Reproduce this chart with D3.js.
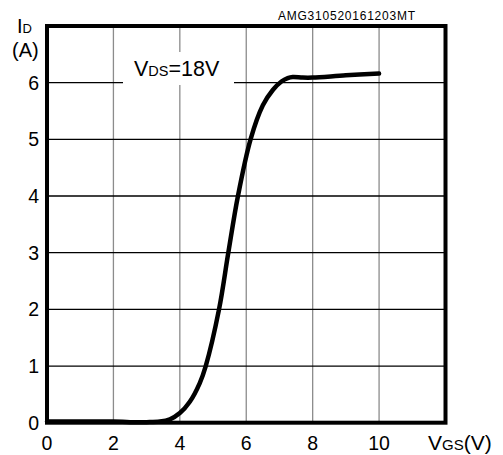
<!DOCTYPE html>
<html>
<head>
<meta charset="utf-8">
<script src="https://cdn.jsdelivr.net/npm/d3@7"></script>
<style>
  body { margin: 0; background: #fff; }
  text { font-family: "Liberation Sans", Arial, sans-serif; fill: #000; }
</style>
</head>
<body>
<div id="chart"></div>
<script>
// data (VGS in V, ID in A)
var vgs = [0, 1, 2, 2.5, 3, 3.4, 3.7, 4, 4.3, 4.6, 4.78, 5.18, 5.46, 5.75, 6.13, 6.5, 6.8, 7.06, 7.25, 7.4, 7.7, 8, 9, 10];
var id  = [0.02, 0.02, 0.02, 0.01, 0.01, 0.02, 0.06, 0.17, 0.37, 0.7, 1.0, 2.0, 3.0, 4.0, 5.0, 5.6, 5.87, 6.02, 6.08, 6.1, 6.09, 6.09, 6.13, 6.16];
var xTicks = [0, 2, 4, 6, 8, 10];
var yTicks = [0, 1, 2, 3, 4, 5, 6];

var svgWidth = 503, svgHeight = 455;
var margin = { top: 26, right: 57.5, bottom: 32.3, left: 47 };
var width = svgWidth - margin.left - margin.right,
    height = svgHeight - margin.top - margin.bottom;

var svg = d3.select("#chart")
    .append("svg")
    .attr("width", svgWidth)
    .attr("height", svgHeight);

var g = svg.append("g")
    .attr("transform", `translate(${margin.left},${margin.top})`);

var x = d3.scaleLinear().domain([0, 12]).range([0, width]);
var y = d3.scaleLinear().domain([0, 7]).range([height, 0]);

// vertical grid (gray)
g.append("g")
    .selectAll("line")
    .data(xTicks.filter(d => d > 0))
    .enter()
    .append("line")
    .attr("x1", d => x(d)).attr("x2", d => x(d))
    .attr("y1", 0).attr("y2", height)
    .attr("stroke", "#8c8c8c")
    .attr("stroke-width", 1.3);

// horizontal grid (black)
g.append("g")
    .selectAll("line")
    .data(yTicks.filter(d => d > 0))
    .enter()
    .append("line")
    .attr("x1", 0).attr("x2", width)
    .attr("y1", d => y(d)).attr("y2", d => y(d))
    .attr("stroke", "#000")
    .attr("stroke-width", 1.3);

// white box behind condition label
g.append("rect")
    .attr("x", 123 - margin.left)
    .attr("y", 52 - margin.top)
    .attr("width", 111)
    .attr("height", 33)
    .attr("fill", "#fff");

var cond = g.append("text")
    .attr("x", 134 - margin.left)
    .attr("y", 76 - margin.top)
    .style("font-size", "21.5px");
cond.append("tspan").text("V");
cond.append("tspan").style("font-size", "14.5px").text("DS");
cond.append("tspan").text("=18V");

// curve
var pts = vgs.map((v, i) => [v, id[i]]);
var line = d3.line()
    .x(d => x(d[0]))
    .y(d => y(d[1]))
    .curve(d3.curveCatmullRom.alpha(0.5));

g.append("path")
    .datum(pts)
    .attr("d", line)
    .attr("fill", "none")
    .attr("stroke", "#000")
    .attr("stroke-width", 4.5)
    .attr("stroke-linecap", "round")
    .attr("stroke-linejoin", "round");

// frame
g.append("rect")
    .attr("x", 0).attr("y", 0)
    .attr("width", width).attr("height", height)
    .attr("fill", "none")
    .attr("stroke", "#000")
    .attr("stroke-width", 4);

// tick labels
g.append("g")
    .selectAll("text")
    .data(yTicks)
    .enter()
    .append("text")
    .attr("x", -8)
    .attr("y", d => y(d))
    .attr("dy", "0.36em")
    .attr("text-anchor", "end")
    .style("font-size", "19.5px")
    .text(d => d);

g.append("g")
    .selectAll("text")
    .data(xTicks)
    .enter()
    .append("text")
    .attr("x", d => x(d))
    .attr("y", height + 20)
    .attr("dy", "0.36em")
    .attr("text-anchor", "middle")
    .style("font-size", "19.5px")
    .text(d => d);

// axis titles
var yt = svg.append("text").attr("x", 17).attr("y", 33).style("font-size", "20px");
yt.append("tspan").text("I");
yt.append("tspan").style("font-size", "13px").text("D");
svg.append("text").attr("x", 12).attr("y", 57).style("font-size", "20px").text("(A)");

var xt = svg.append("text").attr("x", 428).attr("y", 450).style("font-size", "21px");
xt.append("tspan").text("V");
xt.append("tspan").style("font-size", "15px").text("GS");
xt.append("tspan").text("(V)");

svg.append("text")
    .attr("x", 278).attr("y", 20)
    .style("font-size", "12px")
    .attr("textLength", 137)
    .text("AMG310520161203MT");
</script>
</body>
</html>
